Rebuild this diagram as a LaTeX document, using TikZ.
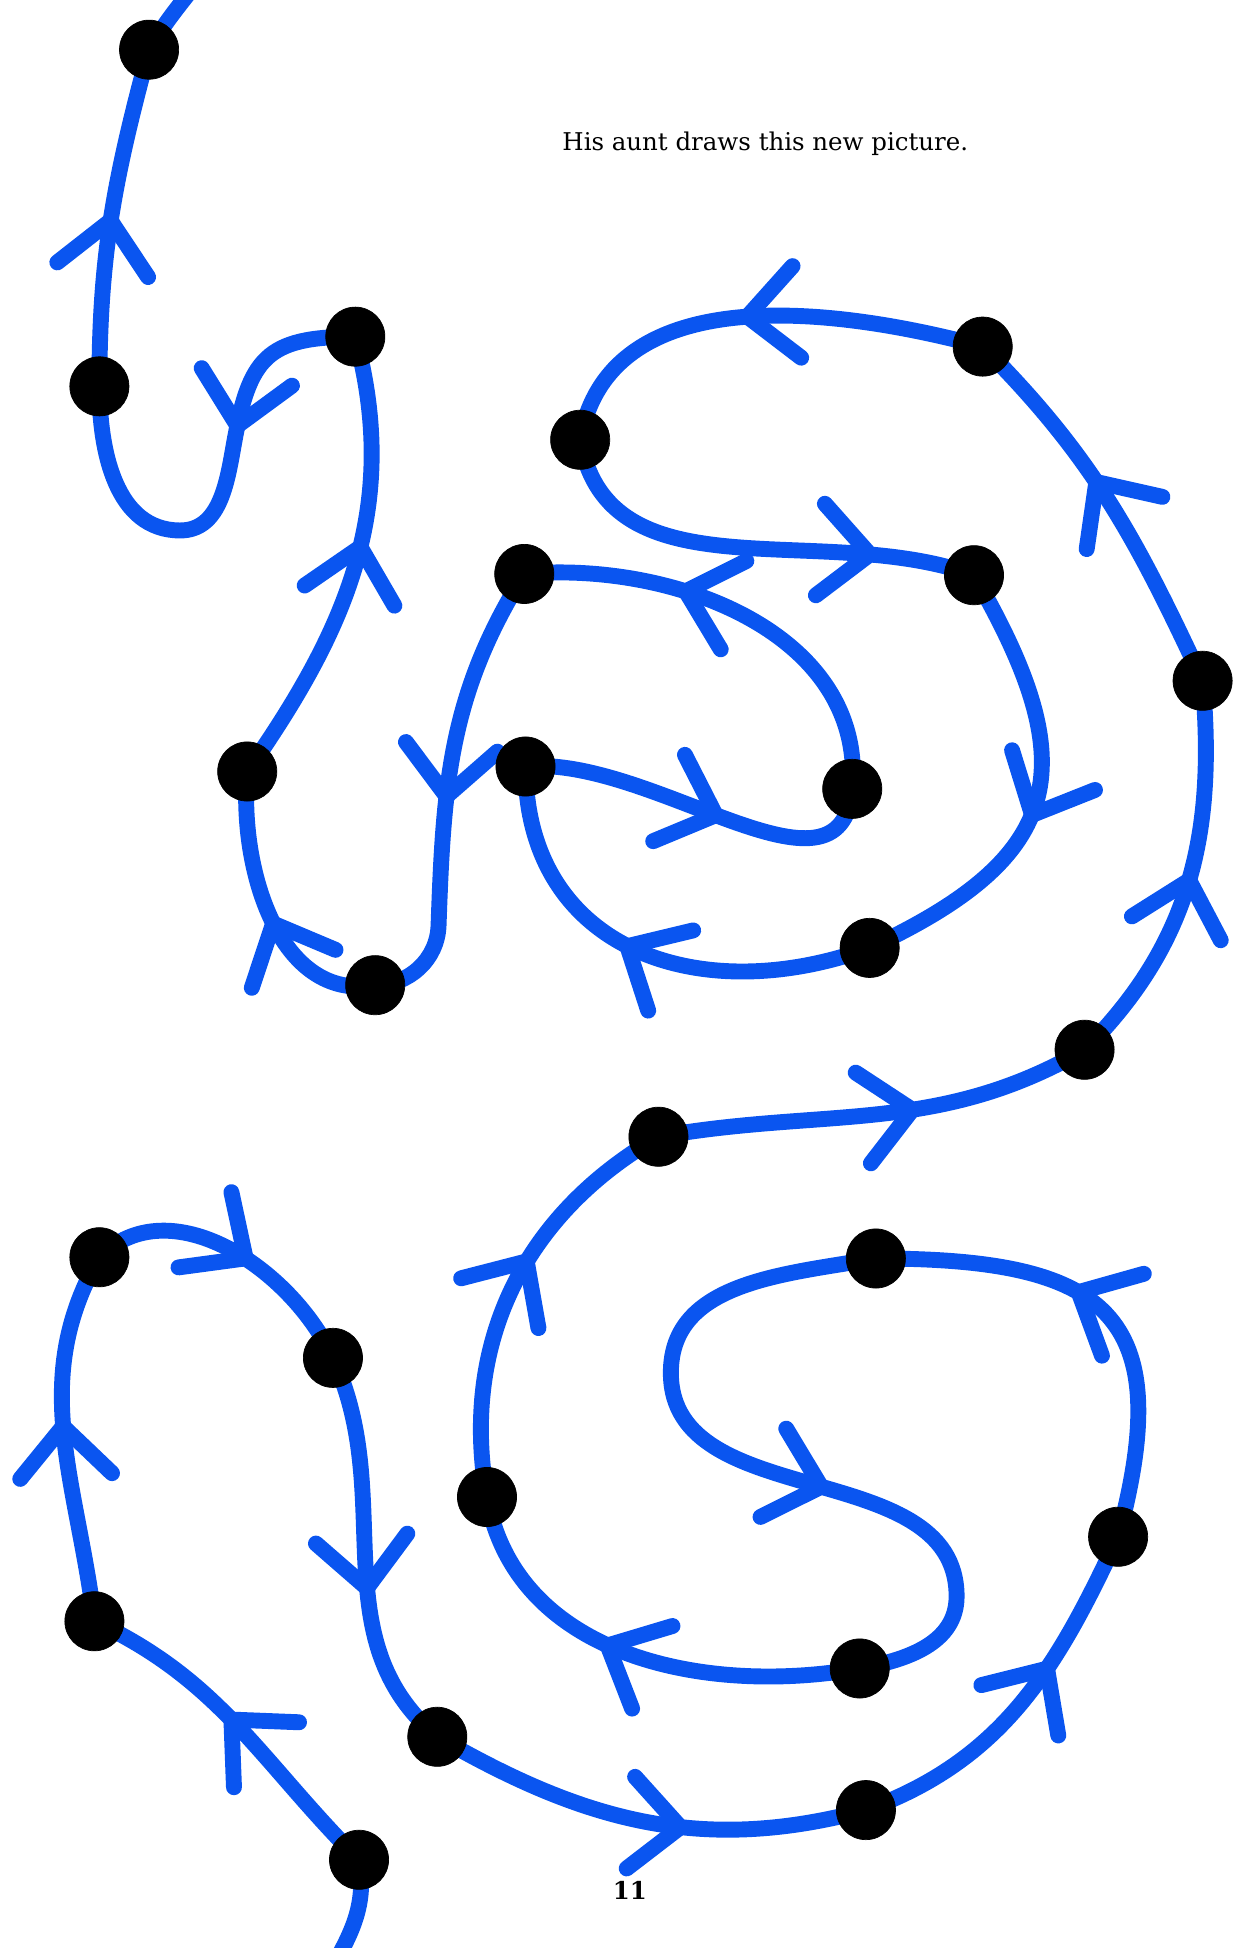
\documentclass[tikz,border=0pt]{standalone}
\usepackage{fontspec}
\setmainfont{DejaVu Serif}
\usepackage{tkz-euclide}
\usetikzlibrary{arrows.meta,decorations.markings}
\definecolor{trailblue}{RGB}{10,85,240}
\tikzset{
  trail/.style={color=trailblue,line width=0.32cm,line cap=round,line join=round},
  barbat/.style={postaction={decorate},decoration={markings,
      mark=at position #1 with {\arrow{Straight Barb[length=1cm,width=1.85cm,line width=0.32cm,round]}}}},
}
\begin{document}
\begin{tikzpicture}[x=0.025cm,y=0.025cm]
            \useasboundingbox (0,0) rectangle (1001,1568);
            \clip (0,0) rectangle (1001,1568);
            \tkzDefPoint(262,-25){In}
            \tkzDefPoint(289,71){A}
            \tkzDefPoint(76,263){B}
            \tkzDefPoint(80,556){C}
            \tkzDefPoint(268,475){D}
            \tkzDefPoint(352,170){E}
            \tkzDefPoint(697,111){F}
            \tkzDefPoint(900,331){G}
            \tkzDefPoint(705,555){H}
            \tkzDefPoint(540,463){H1}
            \tkzDefPoint(770,283){H2}
            \tkzDefPoint(692,225){I}
            \tkzDefPoint(392,363){J}
            \tkzDefPoint(530,653){K}
            \tkzDefPoint(873,723){L}
            \tkzDefPoint(968,1020){M}
            \tkzDefPoint(791,1289){N}
            \tkzDefPoint(467,1214){O}
            \tkzDefPoint(784,1105){P}
            \tkzDefPoint(700,805){Q}
            \tkzDefPoint(423,951){R}
            \tkzDefPoint(686,933){S}
            \tkzDefPoint(422,1106){T}
            \tkzDefPoint(353,823){T1}
            \tkzDefPoint(302,775){U}
            \tkzDefPoint(199,947){V}
            \tkzDefPoint(286,1297){W}
            \tkzDefPoint(188,1209){W1}
            \tkzDefPoint(145,1141){W2}
            \tkzDefPoint(80,1257){X}
            \tkzDefPoint(120,1528){Y}
            \tkzDefPoint(172,1600){Out}
            % the trail, from the bottom edge up to the top edge
            \draw[trail] (In) to[out=60,in=-80] (A);
            \draw[trail,barbat=0.55] (A) to[out=135,in=-25] (B);
            \draw[trail,barbat=0.55] (B) to[out=97,in=-120] (C);
            \draw[trail,barbat=0.57] (C) to[out=45,in=115] (D);
            \draw[trail,barbat=0.6] (D) to[out=-65,in=140] (E);
            \draw[trail,barbat=0.6] (E) to[out=-30,in=-165] (F);
            \draw[trail,barbat=0.63] (F) to[out=20,in=-115] (G);
            \draw[trail,barbat=0.58] (G) to[out=75,in=0,looseness=1.6] (H);
            \draw[trail,barbat=0.6] (H) to[out=190,in=90] (H1)
                to[out=-90,in=90] (H2) to[out=-90,in=10] (I);
            \draw[trail,barbat=0.58] (I) to[out=190,in=-80] (J);
            \draw[trail,barbat=0.59] (J) to[out=100,in=-150] (K);
            \draw[trail,barbat=0.6] (K) to[out=10,in=-150] (L);
            \draw[trail,barbat=0.52] (L) to[out=45,in=-85] (M);
            \draw[trail,barbat=0.58] (M) to[out=115,in=-45] (N);
            \draw[trail,barbat=0.53] (N) to[out=165,in=80] (O);
            \draw[trail,barbat=0.78] (O) to[out=-80,in=160] (P);
            \draw[trail,barbat=0.56] (P) to[out=-60,in=25,looseness=1.45] (Q);
            \draw[trail,barbat=0.55] (Q) to[out=200,in=-90,looseness=1.2] (R);
            \draw[trail,barbat=0.56] (R) to[out=5,in=-95] (S);
            \draw[trail,barbat=0.65] (S) to[out=85,in=5] (T);
            \draw[trail,barbat=0.53] (T) to[out=238,in=88] (T1)
                to[out=268,in=0] (U);
            \draw[trail,barbat=0.48] (U) to[out=190,in=-95] (V);
            \draw[trail,barbat=0.56] (V) to[out=55,in=-75] (W);
            \draw[trail,barbat=0.365] (W) to[out=180,in=80,looseness=1.4] (W1)
                to[out=260,in=0] (W2) to[out=180,in=-90] (X);
            \draw[trail,barbat=0.51] (X) to[out=90,in=-105] (Y);
            \draw[trail] (Y) to[out=60,in=-125] (Out);
            \tkzDrawPoints[fill=black,minimum size=1.19cm](A,B,C,D,E,F,G,H,I,J,K,L,M,N,O,P,Q,R,S,T,U,V,W,X,Y)
            \node[font=\fontsize{14}{17}\selectfont] (caption) at (616,1452) {His aunt draws this new picture.};
            \node[font=\bfseries\fontsize{14}{17}\selectfont] (folio) at (507,46) {11};
        \end{tikzpicture}
\end{document}
